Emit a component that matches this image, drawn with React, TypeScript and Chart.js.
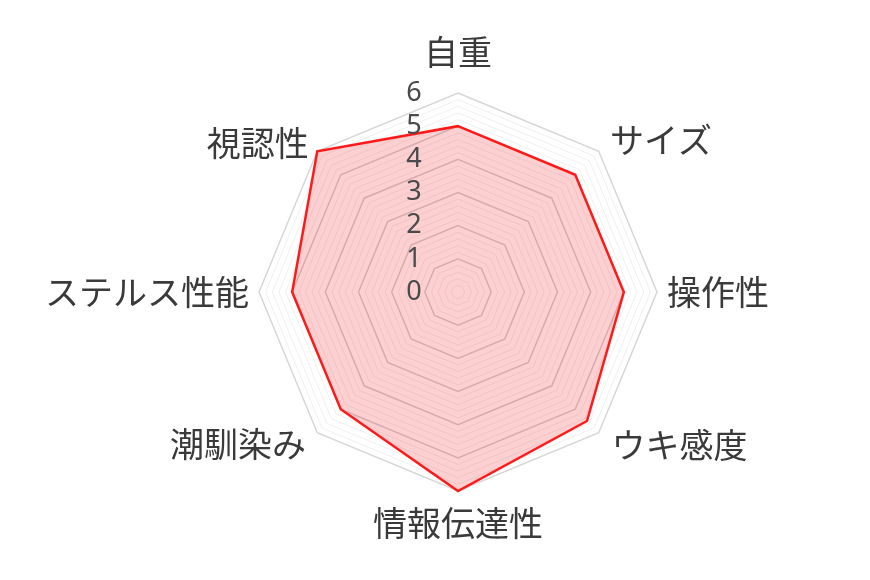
import React, { useEffect, useRef } from "react";
import { Chart, registerables } from "chart.js";

Chart.register(...registerables);

const categories = ["自重", "サイズ", "操作性", "ウキ感度", "情報伝達性", "潮馴染み", "ステルス性能", "視認性"];
const scores = [5, 5, 5, 5.5, 6, 5, 5, 6];
const tickLabels = ["0", "1", "2", "3", "4", "5", "6"];

const labelFont = '34px "Noto Sans CJK JP", sans-serif';
const tickFont = '27px "Noto Sans", sans-serif';
const textColor = "#3a3a3a";
// gap between the outer ring and each category label
const labelGap = [24, 16, 10, 18, 15, 16, 10, 12];

const isWhole = (v: number) => Math.abs(v - Math.round(v)) < 1e-6;

const radarText = {
  id: "radarText",
  afterDatasetsDraw(chart: any) {
    const scale = chart.scales.r;
    const ctx = chart.ctx;
    ctx.save();

    // tick numbers, a little left of the vertical axis
    ctx.font = tickFont;
    ctx.fillStyle = "#4a4a4a";
    ctx.textAlign = "center";
    ctx.textBaseline = "middle";
    tickLabels.forEach((t) => {
      const d = scale.getDistanceFromCenterForValue(Number(t));
      ctx.fillText(t, scale.xCenter - 44, scale.yCenter - d);
    });

    // category labels
    ctx.font = labelFont;
    ctx.fillStyle = textColor;
    categories.forEach((c, i) => {
      const p = scale.getPointPosition(i, scale.drawingArea + labelGap[i]);
      const dx = p.x - scale.xCenter;
      const dy = p.y - scale.yCenter;
      if (Math.abs(dx) < 1) {
        ctx.textAlign = "center";
        ctx.textBaseline = dy < 0 ? "bottom" : "top";
      } else {
        ctx.textAlign = dx > 0 ? "left" : "right";
        ctx.textBaseline = "middle";
      }
      ctx.fillText(c, p.x, p.y);
    });
    ctx.restore();
  },
};

const RadarChart: React.FC = () => {
  const chartRef = useRef<HTMLCanvasElement | null>(null);

  useEffect(() => {
    if (!chartRef.current) return;
    const ctx = chartRef.current.getContext("2d");
    if (!ctx) return;

    const chart = new Chart(ctx, {
      type: "radar",
      data: {
        labels: categories,
        datasets: [
          {
            label: "評価",
            data: scores,
            borderColor: "#ff1a1a",
            backgroundColor: "rgba(240, 40, 40, 0.22)",
            borderWidth: 2.5,
            pointRadius: 0,
            fill: true,
          },
        ],
      },
      options: {
        animation: false,
        responsive: true,
        maintainAspectRatio: false,
        layout: {
          padding: { left: 200, right: 154, top: 93, bottom: 89 },
        },
        plugins: {
          legend: { display: false },
          tooltip: { enabled: false },
        },
        scales: {
          r: {
            min: 0,
            max: 6,
            ticks: { display: false, stepSize: 0.2 },
            pointLabels: { display: false },
            angleLines: { display: false },
            grid: {
              color: (c: any) => {
                const v = c.tick?.value ?? 0;
                if (v >= 6 - 1e-6) return "#d6d6d6";
                return isWhole(v) ? "#d0d0d0" : "#efefef";
              },
              lineWidth: (c: any) => (isWhole(c.tick?.value ?? 0) ? 1.5 : 1),
            },
          },
        },
      },
      plugins: [radarText],
    });

    return () => {
      chart.destroy();
    };
  }, []);

  return <canvas ref={chartRef} />;
};

export default function App() {
  return (
    <div style={{ position: "fixed", left: 0, top: 0, width: 870, height: 580, background: "#fff" }}>
      <RadarChart />
    </div>
  );
}
